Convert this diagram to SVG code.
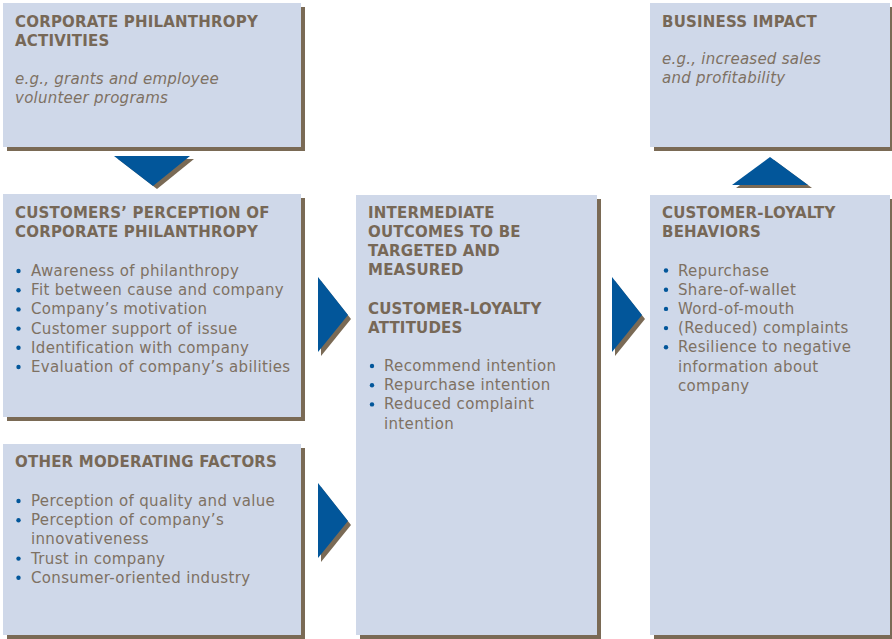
<svg xmlns="http://www.w3.org/2000/svg" width="892" height="639" viewBox="0 0 892 639">
<defs>
<style>
.box{fill:#cfd8e9}
.sh{fill:#7a6a55}
.arr{fill:#02569a}
.t{font-family:"DejaVu Sans",sans-serif;font-weight:bold;font-size:15px;fill:#776857;letter-spacing:0.2px}
.b{font-family:"DejaVu Sans",sans-serif;font-size:15px;fill:#7e7163;letter-spacing:0.35px}
.i{font-family:"DejaVu Sans",sans-serif;font-style:italic;font-size:15px;fill:#7e7163;letter-spacing:0.25px}
.dot{fill:#02569a}
</style>
<polygon id="tri-r" points="0,0 0,75 30,38"/>
</defs>
<rect width="892" height="639" fill="#ffffff"/>

<g id="connectors">
<polygon class="sh" points="118,159 194,159 157,189"/>
<polygon class="arr" points="114,156 190,156 153,186"/>
<polygon class="sh" points="736,188 812,188 774,160"/>
<polygon class="arr" points="732,185 808,185 770,157"/>
<use href="#tri-r" class="sh" x="321" y="281"/>
<use href="#tri-r" class="arr" x="318" y="277"/>
<use href="#tri-r" class="sh" x="615" y="281"/>
<use href="#tri-r" class="arr" x="612" y="277"/>
<use href="#tri-r" class="sh" x="321" y="487"/>
<use href="#tri-r" class="arr" x="318" y="483"/>
</g>

<g id="activities">
<rect class="sh" x="7" y="7" width="298" height="144"/>
<rect class="box" x="3" y="3" width="298" height="144"/>
<text class="t" x="15" y="27">CORPORATE PHILANTHROPY</text>
<text class="t" x="15" y="46">ACTIVITIES</text>
<text class="i" x="15" y="84">e.g., grants and employee</text>
<text class="i" x="15" y="103">volunteer programs</text>
</g>

<g id="perception">
<rect class="sh" x="7" y="198" width="298" height="223"/>
<rect class="box" x="3" y="194" width="298" height="223"/>
<text class="t" x="15" y="218">CUSTOMERS’ PERCEPTION OF</text>
<text class="t" x="15" y="237">CORPORATE PHILANTHROPY</text>
<circle class="dot" cx="18.5" cy="271" r="2.2"/>
<text class="b" x="31" y="276">Awareness of philanthropy</text>
<circle class="dot" cx="18.5" cy="290.2" r="2.2"/>
<text class="b" x="31" y="295.2">Fit between cause and company</text>
<circle class="dot" cx="18.5" cy="309.4" r="2.2"/>
<text class="b" x="31" y="314.4">Company’s motivation</text>
<circle class="dot" cx="18.5" cy="328.6" r="2.2"/>
<text class="b" x="31" y="333.6">Customer support of issue</text>
<circle class="dot" cx="18.5" cy="347.8" r="2.2"/>
<text class="b" x="31" y="352.8">Identification with company</text>
<circle class="dot" cx="18.5" cy="367" r="2.2"/>
<text class="b" x="31" y="372">Evaluation of company’s abilities</text>
</g>

<g id="moderating">
<rect class="sh" x="7" y="448" width="298" height="191"/>
<rect class="box" x="3" y="444" width="298" height="191"/>
<text class="t" x="15" y="467">OTHER MODERATING FACTORS</text>
<circle class="dot" cx="18.5" cy="501" r="2.2"/>
<text class="b" x="31" y="506">Perception of quality and value</text>
<circle class="dot" cx="18.5" cy="520.2" r="2.2"/>
<text class="b" x="31" y="525.2">Perception of company’s</text>
<text class="b" x="31" y="544.4">innovativeness</text>
<circle class="dot" cx="18.5" cy="558.6" r="2.2"/>
<text class="b" x="31" y="563.6">Trust in company</text>
<circle class="dot" cx="18.5" cy="577.8" r="2.2"/>
<text class="b" x="31" y="582.8">Consumer-oriented industry</text>
</g>

<g id="intermediate">
<rect class="sh" x="360" y="199" width="241" height="440"/>
<rect class="box" x="356" y="195" width="241" height="440"/>
<text class="t" x="368" y="218">INTERMEDIATE</text>
<text class="t" x="368" y="237">OUTCOMES TO BE</text>
<text class="t" x="368" y="256">TARGETED AND</text>
<text class="t" x="368" y="275">MEASURED</text>
<text class="t" x="368" y="314">CUSTOMER-LOYALTY</text>
<text class="t" x="368" y="333">ATTITUDES</text>
<circle class="dot" cx="372" cy="366" r="2.2"/>
<text class="b" x="384" y="371">Recommend intention</text>
<circle class="dot" cx="372" cy="385.2" r="2.2"/>
<text class="b" x="384" y="390.2">Repurchase intention</text>
<circle class="dot" cx="372" cy="404.4" r="2.2"/>
<text class="b" x="384" y="409.4">Reduced complaint</text>
<text class="b" x="384" y="428.6">intention</text>
</g>

<g id="impact">
<rect class="sh" x="654" y="7" width="240" height="144"/>
<rect class="box" x="650" y="3" width="240" height="144"/>
<text class="t" x="662" y="27">BUSINESS IMPACT</text>
<text class="i" x="662" y="64">e.g., increased sales</text>
<text class="i" x="662" y="83">and profitability</text>
</g>

<g id="behaviors">
<rect class="sh" x="654" y="199" width="240" height="440"/>
<rect class="box" x="650" y="195" width="240" height="440"/>
<text class="t" x="662" y="218">CUSTOMER-LOYALTY</text>
<text class="t" x="662" y="237">BEHAVIORS</text>
<circle class="dot" cx="666" cy="270.5" r="2.2"/>
<text class="b" x="678" y="275.5">Repurchase</text>
<circle class="dot" cx="666" cy="289.7" r="2.2"/>
<text class="b" x="678" y="294.7">Share-of-wallet</text>
<circle class="dot" cx="666" cy="308.9" r="2.2"/>
<text class="b" x="678" y="313.9">Word-of-mouth</text>
<circle class="dot" cx="666" cy="328.1" r="2.2"/>
<text class="b" x="678" y="333.1">(Reduced) complaints</text>
<circle class="dot" cx="666" cy="347.3" r="2.2"/>
<text class="b" x="678" y="352.3">Resilience to negative</text>
<text class="b" x="678" y="371.5">information about</text>
<text class="b" x="678" y="390.7">company</text>
</g>
</svg>
